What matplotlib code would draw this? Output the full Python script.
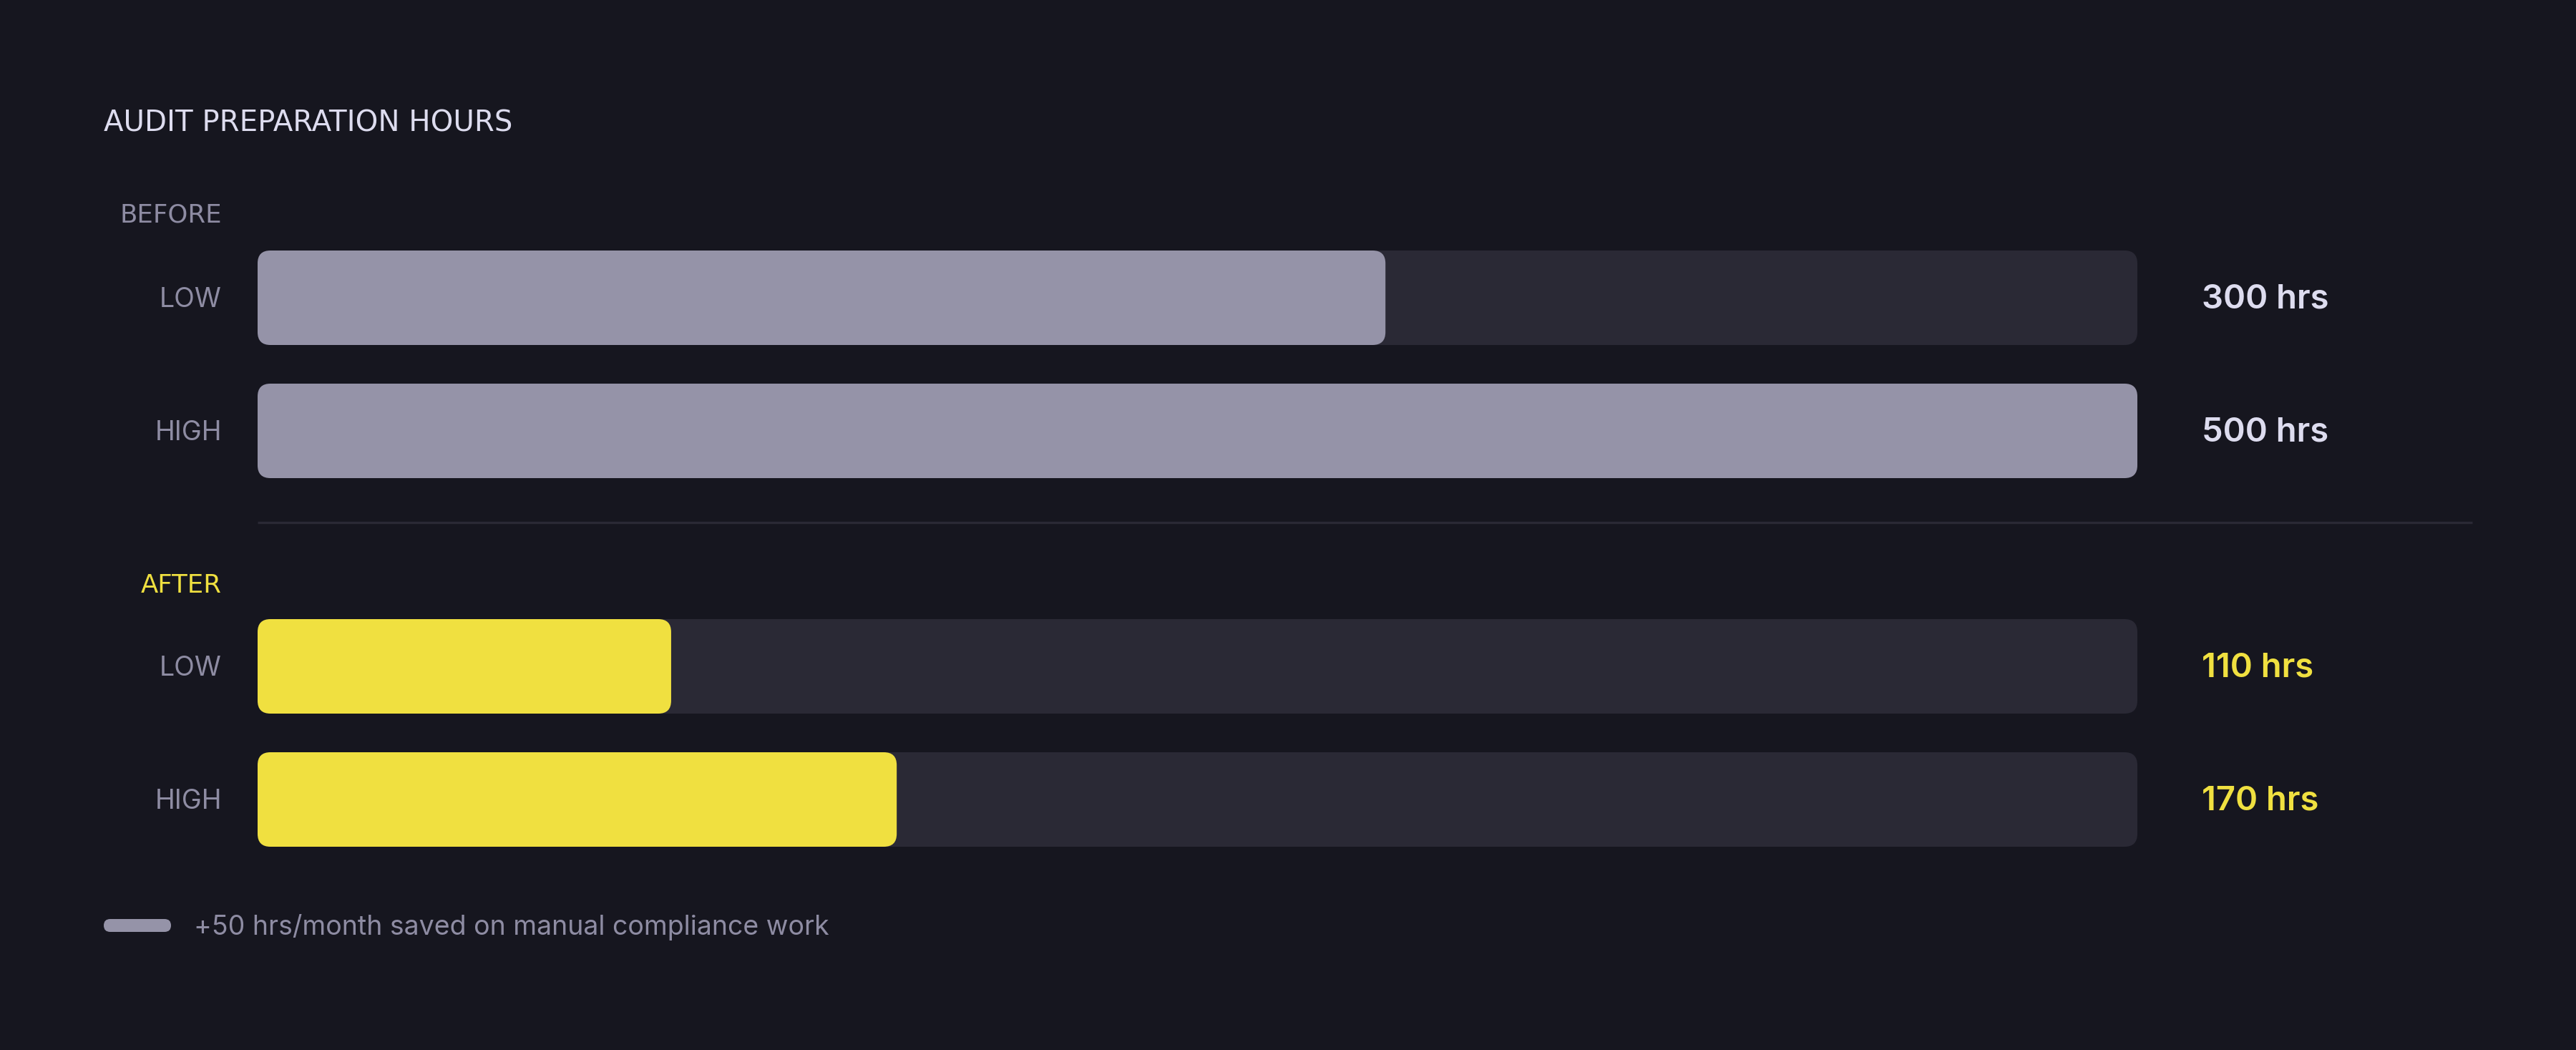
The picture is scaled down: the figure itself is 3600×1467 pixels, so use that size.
import matplotlib.pyplot as plt
from matplotlib.patches import FancyBboxPatch

title = "AUDIT PREPARATION HOURS"
groups = ["BEFORE", "AFTER"]
levels = ["LOW", "HIGH"]
before_hours = [300, 500]
after_hours = [110, 170]
max_hours = 500
note = "+50 hrs/month saved on manual compliance work"

bg = "#16161f"
track = "#2a2935"
grey_bar = "#9593a8"
yellow = "#f0e040"
label_col = "#8e8ca3"
light = "#dddcef"

plt.rcParams['font.family'] = ['Inter', 'DejaVu Sans']
wide = ['DejaVu Sans']

W, H, dpi = 3600, 1467, 200
fig = plt.figure(figsize=(W / dpi, H / dpi), dpi=dpi, facecolor=bg)
ax = fig.add_axes([0, 0, 1, 1])
ax.set_facecolor(bg)
ax.axis('off')

# pixel layout: x=0 at px 360, 500 hrs at px 2987; one row unit = 186 px
x0_px, x1_px = 360, 2987
px_x = (x1_px - x0_px) / max_hours
px_y = 186
y0_px = 416
ax.set_xlim(-x0_px / px_x, (W - x0_px) / px_x)
ax.set_ylim((H - y0_px) / px_y, -y0_px / px_y)
aspect = px_x / px_y

def ypos(p):
    return (p - y0_px) / px_y

bar_h = 132 / px_y
radius = 18 / px_x
tdy = 2.5 / px_y  # small nudge so caps sit centred like the reference

rows = [ypos(416), ypos(602), ypos(931), ypos(1117)]
group_y = [ypos(298), ypos(815)]
group_col = [label_col, yellow]
fill_col = [grey_bar, yellow]
value_col = [light, yellow]
values = [before_hours, after_hours]

lab_x = (310 - x0_px) / px_x
val_x = (3077 - x0_px) / px_x

ax.text(-(x0_px - 145) / px_x, ypos(170) + tdy, title, color=light,
        fontsize=14.5, family=wide, ha='left', va='center')

for g in range(2):
    ax.text(lab_x, group_y[g] + tdy, groups[g], color=group_col[g],
            fontsize=12.8, family=wide, ha='right', va='center')
    for i in range(2):
        y = rows[g * 2 + i]
        ax.add_patch(FancyBboxPatch((0, y - bar_h / 2), max_hours, bar_h,
                     boxstyle=f"round,pad=0,rounding_size={radius}",
                     mutation_aspect=aspect, fc=track, ec='none'))
        ax.add_patch(FancyBboxPatch((0, y - bar_h / 2), values[g][i], bar_h,
                     boxstyle=f"round,pad=0,rounding_size={radius}",
                     mutation_aspect=aspect, fc=fill_col[g], ec='none'))
        ax.text(lab_x, y + tdy, levels[i], color=label_col, fontsize=13.5,
                ha='right', va='center')
        ax.text(val_x, y + tdy, f"{values[g][i]} hrs", color=value_col[g],
                fontsize=17, fontweight='semibold', ha='left', va='center')

# divider between groups
ax.plot([0, (3455 - x0_px) / px_x], [ypos(730)] * 2, color=track, lw=1.2,
        solid_capstyle='butt')

# footnote with pill marker
pill_h = 18 / px_y
pill_x = (145 - x0_px) / px_x
pill_w = 94 / px_x
ly = ypos(1293)
ax.add_patch(FancyBboxPatch((pill_x, ly - pill_h / 2), pill_w, pill_h,
             boxstyle=f"round,pad=0,rounding_size={9 / px_x}",
             mutation_aspect=aspect, fc=grey_bar, ec='none'))
ax.text((271 - x0_px) / px_x, ly + tdy, note, color=label_col, fontsize=13.5,
        ha='left', va='center')

fig.savefig("out.png", dpi=dpi, facecolor=bg)
